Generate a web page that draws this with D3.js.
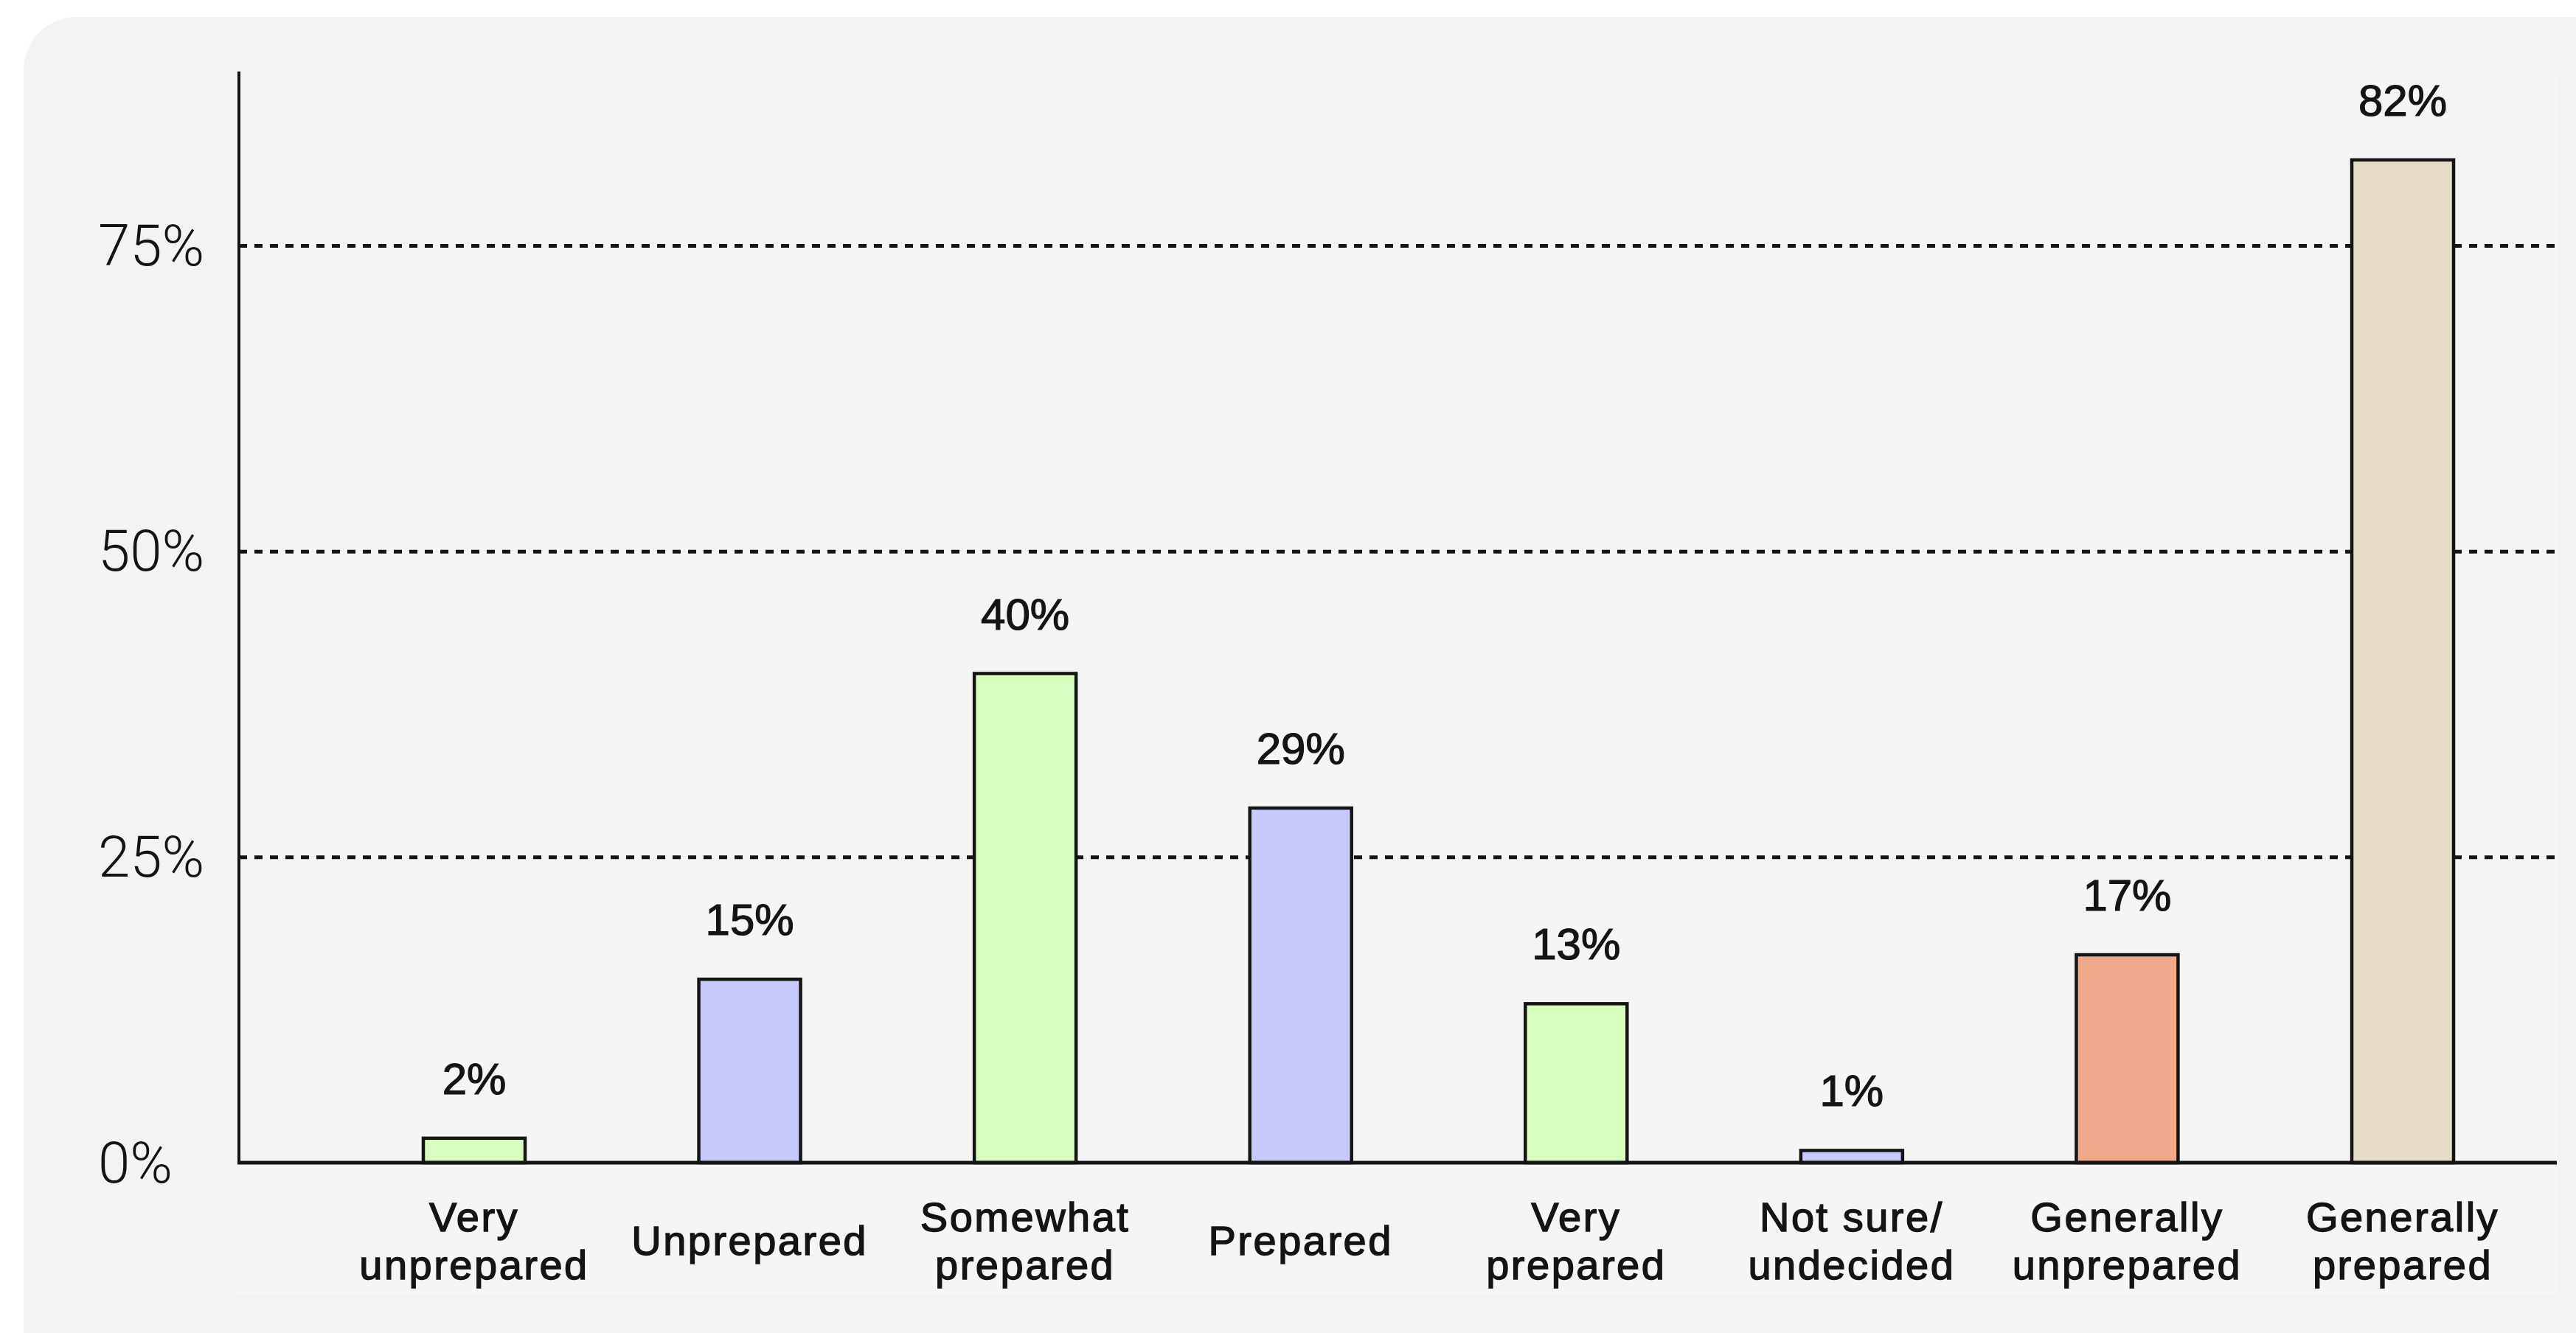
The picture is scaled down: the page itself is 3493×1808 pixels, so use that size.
<!DOCTYPE html>
<html>
<head>
<meta charset="utf-8">
<script src="https://cdn.jsdelivr.net/npm/d3@7"></script>
<style>
  html, body { margin: 0; padding: 0; background: #ffffff; }
  svg { display: block; }
</style>
</head>
<body>
<svg id="chart" width="3493" height="1808"></svg>
<script>
// Survey responses: how prepared people feel
const categories = [
  "Very unprepared", "Unprepared", "Somewhat prepared", "Prepared",
  "Very prepared", "Not sure/ undecided", "Generally unprepared", "Generally prepared"
];
const labelLines = [
  ["Very", "unprepared"], ["Unprepared"], ["Somewhat", "prepared"], ["Prepared"],
  ["Very", "prepared"], ["Not sure/", "undecided"], ["Generally", "unprepared"], ["Generally", "prepared"]
];
const values = [2, 15, 40, 29, 13, 1, 17, 82];
const barColors = ["#d7fdc1", "#c8caff", "#d7fdc1", "#c8caff", "#d7fdc1", "#c8caff", "#eeaa8b", "#e5ddc7"];
const tickValues = [0, 25, 50, 75];
const tickLabels = ["0%", "25%", "50%", "75%"];

// Layout
const W = 3493, H = 1808;
const axisX = 324, plotTop = 97, baseY = 1577, plotRight = 3467, plotBottom = 1755;
const ink = "#141414";
const labelFont = "'Liberation Sans', Arial, sans-serif";

const svg = d3.select("#chart");

// Card
svg.append("rect")
  .attr("x", 32).attr("y", 23)
  .attr("width", W + 200).attr("height", H + 200)
  .attr("rx", 72).attr("fill", "#f3f3f3");

// Plot panel
svg.append("rect")
  .attr("x", axisX - 4).attr("y", plotTop)
  .attr("width", plotRight - axisX + 4).attr("height", plotBottom - plotTop)
  .attr("fill", "#f5f5f5");

const y = d3.scaleLinear().domain([0, 75]).range([baseY, 333]);
const x = d3.scalePoint().domain(categories).range([643, 3258]);
const barW = 138;

// Dashed gridlines
const grid = d3.axisLeft(y).tickValues(tickValues.filter(v => v > 0))
  .tickSize(-(plotRight - axisX)).tickFormat("");
svg.append("g")
  .attr("transform", `translate(${axisX},0)`)
  .call(grid)
  .call(g => g.select(".domain").remove())
  .call(g => g.selectAll(".tick line")
    .attr("stroke", ink).attr("stroke-width", 5)
    .attr("stroke-dasharray", "11 10"));

// Tick labels (left-aligned)
svg.append("g").selectAll("text")
  .data(tickValues)
  .join("text")
  .attr("x", 133)
  .attr("y", d => y(d))
  .attr("dominant-baseline", "central")
  .attr("font-family", "Roboto, 'Liberation Sans', sans-serif")
  .attr("font-weight", 300)
  .attr("font-size", 78)
  .attr("fill", ink)
  .text((d, i) => tickLabels[i]);

// Bars
svg.append("g").selectAll("rect")
  .data(values)
  .join("rect")
  .attr("x", (d, i) => x(categories[i]) - barW / 2)
  .attr("y", d => y(d))
  .attr("width", barW)
  .attr("height", d => y(0) - y(d))
  .attr("fill", (d, i) => barColors[i])
  .attr("stroke", ink)
  .attr("stroke-width", 4.5);

// Axis lines
svg.append("line")
  .attr("x1", axisX).attr("x2", axisX)
  .attr("y1", plotTop).attr("y2", baseY)
  .attr("stroke", ink).attr("stroke-width", 4);
svg.append("line")
  .attr("x1", axisX - 2).attr("x2", plotRight)
  .attr("y1", baseY).attr("y2", baseY)
  .attr("stroke", ink).attr("stroke-width", 5);

// Value labels
svg.append("g").selectAll("text")
  .data(values)
  .join("text")
  .attr("x", (d, i) => x(categories[i]))
  .attr("y", d => y(d) - 60)
  .attr("text-anchor", "middle")
  .attr("font-family", labelFont)
  .attr("font-size", 60)
  .attr("fill", ink)
  .attr("stroke", ink)
  .attr("stroke-width", 1.2)
  .text(d => d + "%");

// Category labels
const lineH = 65, labelMid = 1682, capH = 40;
const cat = svg.append("g").selectAll("text")
  .data(labelLines)
  .join("text")
  .attr("text-anchor", "middle")
  .attr("font-family", labelFont)
  .attr("font-size", 56)
  .attr("letter-spacing", 2.5)
  .attr("fill", ink)
  .attr("stroke", ink)
  .attr("stroke-width", 1.4);
cat.selectAll("tspan")
  .data((lines, i) => lines.map((t, k) => ({ t, k, n: lines.length, cx: x(categories[i]) })))
  .join("tspan")
  .attr("x", d => d.cx)
  .attr("y", d => labelMid + (d.k - (d.n - 1) / 2) * lineH + capH / 2)
  .text(d => d.t);
</script>
</body>
</html>
